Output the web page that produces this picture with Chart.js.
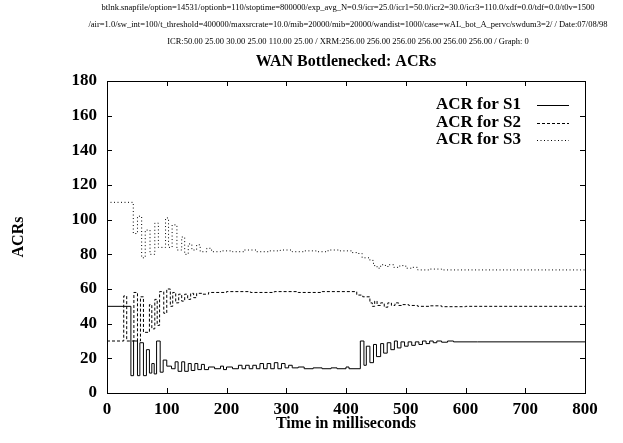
<!DOCTYPE html>
<html>
<head>
<meta charset="utf-8">
<script src="https://cdn.jsdelivr.net/npm/chart.js@4/dist/chart.umd.min.js"></script>
<style>
html,body{margin:0;padding:0;background:#fff;}
#wrap{width:623px;height:443px;}
</style>
</head>
<body>
<div id="wrap"><canvas id="c" width="623" height="443"></canvas></div>
<script>
// ---- data (time in ms, ACR values) ----
const s1Times  = [0,40,44.5,51,55,61,66,71,75,79,83,89,94,100,108,114,119,125,130,136,141,147,152,158,163,170,180,190,195,200,210,220,226,232,238,244,250,256,262,268,274,280,286,292,298,304,310,320,330,345,360,375,385,400,405,424,430,434,440,446,451,458,463,469,475,481,486,492,498,504,510,516,522,528,534,540,546,552,560,570,580,620,800];
const s1Values = [50,10,30,10,29,10,25,11.5,17,11,30,12,19,15.5,14,18,12.5,18,12.5,17,13,17,13.5,16.5,13.5,15,14,15.5,13.5,15,14,16,14,16,14,16,14,17,14,17,14,17.5,14,17,14.5,16,14.5,15,14,14.5,14,14.5,14,15,14,30,16,27,17.5,28,21,28.5,23,29,25,30,26,29.5,27,29.5,27.5,29.5,28,30,28.5,30,29,30,29.3,30,29.5,29.5,29.5];

const s2Times  = [0,28,33,45,51,56,61,71,75,80,84,88,95,100,106,110,115,120,125,130,135,140,145,150,160,170,200,240,280,320,360,400,418,428,440,444,448,452,458,464,470,476,482,488,495,505,520,540,560,600,800];
const s2Values = [30,56,30,58,30,55.5,35,51,37,54,39,58.5,46,60,50,58,52,57,53,57,54,57.5,55,57.5,57,58,58.5,58,58.5,58,58.5,58.5,56.5,55.5,52,50,53,50.5,52,49.5,52,50.5,52,50.5,51,50.5,50,50.3,49.8,50,50];

const s3Times  = [0,44,51,58,64,72,80,86,98,103,109,117,125,130,136,142,150,156,167,175,190,210,230,250,270,290,310,330,350,370,390,410,420,427,440,446,452,458,466,472,480,490,500,510,520,540,560,800];
const s3Values = [110,92,102,78,94,80,98,84,101,84,97,82.5,90,80,86,82.5,85.5,81.5,83.5,81.5,82,81.5,82.5,81.5,82,82.5,81.5,82,81.5,82.5,82,81,80.5,78,76.5,73.5,72,74,73,74,72.5,73.5,72,72.5,71,71.5,71,71];

const seriesNames = ["ACR for S1","ACR for S2","ACR for S3"];
const xTickValues = [0,100,200,300,400,500,600,700,800];
const yTickValues = [0,20,40,60,80,100,120,140,160,180];

const headerLines = [
 "btlnk.snapfile/option=14531/optionb=110/stoptime=800000/exp_avg_N=0.9/icr=25.0/icr1=50.0/icr2=30.0/icr3=110.0/xdf=0.0/tdf=0.0/t0v=1500",
 "/air=1.0/sw_int=100/t_threshold=400000/maxsrcrate=10.0/mib=20000/mib=20000/wandist=1000/case=wAL_bot_A_pervc/swdum3=2/ / Date:07/08/98",
 "ICR:50.00 25.00 30.00 25.00 110.00 25.00 / XRM:256.00 256.00 256.00 256.00 256.00 256.00 / Graph: 0"
];
const chartTitle = "WAN Bottlenecked: ACRs";
const xTitle = "Time in milliseconds";
const yTitle = "ACRs";

// ---- build ----
const toPts = (ts, vs) => ts.map((t, i) => ({x: t, y: vs[i]}));
const dashes = [[], [3, 2], [1, 2.5]];
const SERIF = "'Liberation Serif', 'Times New Roman', serif";

const datasets = [
  {label: seriesNames[0], data: toPts(s1Times, s1Values)},
  {label: seriesNames[1], data: toPts(s2Times, s2Values)},
  {label: seriesNames[2], data: toPts(s3Times, s3Values)}
].map((d, i) => Object.assign(d, {
  borderColor: '#000', borderWidth: 1, borderDash: dashes[i],
  pointRadius: 0, stepped: true, tension: 0, fill: false
}));

const decor = {
  id: 'decor',
  afterDraw(chart) {
    const ctx = chart.ctx, a = chart.chartArea;
    const xs = chart.scales.x, ys = chart.scales.y;
    ctx.save();
    ctx.strokeStyle = '#000';
    ctx.lineWidth = 1;
    ctx.setLineDash([]);
    // frame
    ctx.strokeRect(Math.round(a.left) + 0.5, Math.round(a.top) + 0.5,
                   Math.round(a.right - a.left), Math.round(a.bottom - a.top));
    // inward ticks
    const tl = 5;
    ctx.beginPath();
    yTickValues.forEach(v => {
      const y = Math.round(ys.getPixelForValue(v)) + 0.5;
      ctx.moveTo(a.left, y); ctx.lineTo(a.left + tl, y);
      ctx.moveTo(a.right, y); ctx.lineTo(a.right - tl, y);
    });
    xTickValues.forEach(v => {
      const x = Math.round(xs.getPixelForValue(v)) + 0.5;
      ctx.moveTo(x, a.bottom); ctx.lineTo(x, a.bottom - tl);
      ctx.moveTo(x, a.top); ctx.lineTo(x, a.top + tl);
    });
    ctx.stroke();

    ctx.fillStyle = '#000';
    // header lines
    ctx.font = "8.5px " + SERIF;
    ctx.textAlign = 'center';
    ctx.textBaseline = 'middle';
    headerLines.forEach((t, i) => ctx.fillText(t, 348, 8 + i * 17));
    // title
    ctx.font = "bold 16px " + SERIF;
    ctx.fillText(chartTitle, (a.left + a.right) / 2, 62);
    // x title
    ctx.font = "bold 16px " + SERIF;
    ctx.fillText(xTitle, (a.left + a.right) / 2, 424);
    // y title
    ctx.save();
    ctx.translate(19, (a.top + a.bottom) / 2);
    ctx.rotate(-Math.PI / 2);
    ctx.fillText(yTitle, 0, 0);
    ctx.restore();
    // legend
    ctx.font = "bold 17px " + SERIF;
    ctx.textAlign = 'right';
    datasets.forEach((d, i) => {
      const y = 105 + i * 17.5;
      ctx.fillText(d.label, 521, y);
      ctx.beginPath();
      ctx.setLineDash(d.borderDash);
      ctx.moveTo(537, Math.round(y) + 0.5);
      ctx.lineTo(569, Math.round(y) + 0.5);
      ctx.stroke();
    });
    ctx.restore();
  }
};

new Chart(document.getElementById('c'), {
  type: 'line',
  data: {datasets},
  options: {
    responsive: false,
    animation: false,
    layout: {padding: {top: 81, right: 38, left: 0, bottom: 0}},
    plugins: {legend: {display: false}, title: {display: false}, tooltip: {enabled: false}},
    scales: {
      x: {
        type: 'linear',
        min: xTickValues[0], max: xTickValues[xTickValues.length - 1],
        afterFit: s => { s.height = 50; },
        afterBuildTicks: s => { s.ticks = xTickValues.map(v => ({value: v})); },
        grid: {display: false, drawTicks: false},
        border: {display: false},
        ticks: {color: '#000', padding: 6, maxRotation: 0, autoSkip: false,
                font: {family: SERIF, weight: 'bold', size: 17}}
      },
      y: {
        type: 'linear',
        min: yTickValues[0], max: yTickValues[yTickValues.length - 1],
        afterFit: s => { s.width = 107; },
        afterBuildTicks: s => { s.ticks = yTickValues.map(v => ({value: v})); },
        grid: {display: false, drawTicks: false},
        border: {display: false},
        ticks: {color: '#000', padding: 10, autoSkip: false,
                font: {family: SERIF, weight: 'bold', size: 17}}
      }
    }
  },
  plugins: [decor]
});
</script>
</body>
</html>
